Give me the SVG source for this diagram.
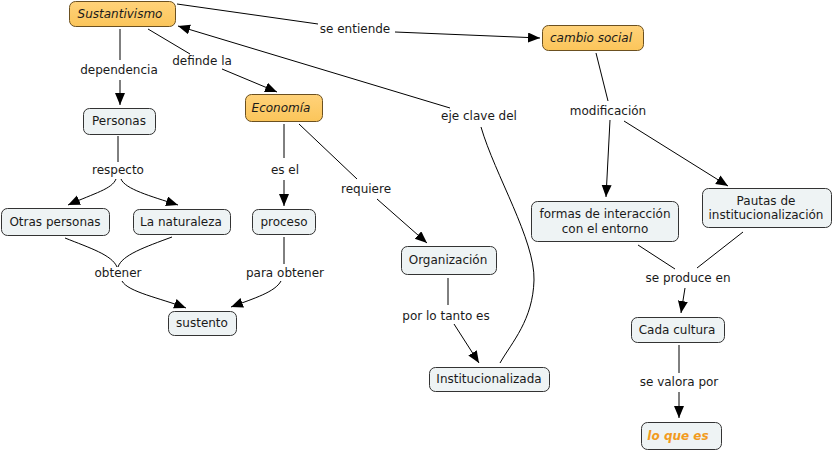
<svg xmlns="http://www.w3.org/2000/svg" width="833" height="451" viewBox="0 0 833 451">
<defs>
<linearGradient id="og" x1="0" y1="0" x2="0" y2="1">
<stop offset="0" stop-color="#FFD27A"/>
<stop offset="1" stop-color="#FBC55A"/>
</linearGradient>
<marker id="ah" markerUnits="userSpaceOnUse" markerWidth="13" markerHeight="11" refX="12" refY="5" orient="auto" viewBox="0 0 13 11">
<path d="M0,0 L12,5 L0,10 z" fill="#000"/>
</marker>
<style>
text{font-family:"DejaVu Sans",Verdana,sans-serif;font-size:12px;fill:#1a1a1a;text-anchor:middle}
.n rect{fill:#EEF3F4;stroke:#333;stroke-width:1}
.o rect{fill:url(#og);stroke:#6b5020;stroke-width:1}
.o text{font-style:italic}
.c path{fill:none;stroke:#000;stroke-width:1}
.a{marker-end:url(#ah)}
.hl{fill:#F29B1E;font-weight:bold;font-style:italic}
</style>
</defs>
<rect width="833" height="451" fill="#fff"/>
<g class="c" id="connectors">
<path d="M177,4 L318,24"/>
<path class="a" d="M395,32 L540,38"/>
<path d="M120,29 L120,60"/>
<path class="a" d="M120,80 L120,105"/>
<path d="M148,29 L190,54"/>
<path class="a" d="M222,69 L277,92"/>
<path class="a" d="M450,108 L178,26"/>
<path d="M481,127 C495,175 535,240 534,280 C533,320 512,342 500,363"/>
<path d="M118,136 L118,162"/>
<path class="a" d="M116,179 C112,189 95,193 68,205"/>
<path class="a" d="M121,179 C125,189 150,196 178,205"/>
<path d="M65,238 C90,248 112,255 117,267"/>
<path d="M172,237 C145,247 122,255 118,267"/>
<path class="a" d="M122,281 C128,292 160,298 186,308"/>
<path d="M284,124 L284,158"/>
<path class="a" d="M284,180 L284,206"/>
<path d="M284,237 L284,264"/>
<path class="a" d="M281,281 C275,292 255,298 231,307"/>
<path d="M299,124 L357,179"/>
<path class="a" d="M377,199 L427,243"/>
<path d="M448,278 L448,305"/>
<path class="a" d="M454,324 L479,363"/>
<path d="M596,53 L608,101"/>
<path class="a" d="M610,120 L606,197"/>
<path class="a" d="M624,121 L728,186"/>
<path d="M638,245 L675,269"/>
<path d="M743,232 L697,268"/>
<path class="a" d="M685,288 L681,313"/>
<path d="M679,345 L679,373"/>
<path class="a" d="M679,392 L679,418"/>
</g>
<g id="labels">
<text x="355" y="33">se entiende</text>
<text x="119" y="74">dependencia</text>
<text x="202" y="65">definde la</text>
<text x="118" y="174">respecto</text>
<text x="285" y="174">es el</text>
<text x="366" y="193">requiere</text>
<text x="118" y="277">obtener</text>
<text x="285" y="277">para obtener</text>
<text x="479" y="120">eje clave del</text>
<text x="608" y="115">modificación</text>
<text x="688" y="282">se produce en</text>
<text x="446" y="320">por lo tanto es</text>
<text x="679" y="386">se valora por</text>
</g>
<g id="sustantivismo" class="o"><rect x="69.5" y="1.5" width="106" height="25" rx="6"/><text x="120" y="18">Sustantivismo</text></g>
<g id="economia" class="o"><rect x="245.5" y="94.5" width="77" height="27" rx="6"/><text x="281" y="112">Economía</text></g>
<g id="cambio-social" class="o"><rect x="542.5" y="25.5" width="101" height="25" rx="6"/><text x="591" y="42">cambio social</text></g>
<g id="personas" class="n"><rect x="83.5" y="108.5" width="72" height="26" rx="6"/><text x="119" y="125">Personas</text></g>
<g id="otras-personas" class="n"><rect x="1.5" y="208.5" width="108" height="27" rx="6"/><text x="55" y="226">Otras personas</text></g>
<g id="la-naturaleza" class="n"><rect x="133.5" y="209.5" width="97" height="25" rx="6"/><text x="181" y="226">La naturaleza</text></g>
<g id="proceso" class="n"><rect x="252.5" y="209.5" width="63" height="25" rx="6"/><text x="284" y="226">proceso</text></g>
<g id="sustento" class="n"><rect x="168.5" y="311.5" width="68" height="24" rx="6"/><text x="202" y="327">sustento</text></g>
<g id="organizacion" class="n"><rect x="401.5" y="246.5" width="95" height="28" rx="6"/><text x="448" y="264">Organización</text></g>
<g id="institucionalizada" class="n"><rect x="429.5" y="367.5" width="120" height="24" rx="6"/><text x="489" y="383">Institucionalizada</text></g>
<g id="formas" class="n"><rect x="531.5" y="201.5" width="147" height="40" rx="6"/><text x="605" y="218">formas de interacción</text><text x="605" y="233">con el entorno</text></g>
<g id="pautas" class="n"><rect x="702.5" y="188.5" width="129" height="39" rx="6"/><text x="766" y="205">Pautas de</text><text x="766" y="219">institucionalización</text></g>
<g id="cada-cultura" class="n"><rect x="631.5" y="317.5" width="93" height="25" rx="6"/><text x="677" y="334">Cada cultura</text></g>
<g id="lo-que-es" class="n"><rect x="641.5" y="422.5" width="80" height="27" rx="6"/><text class="hl" x="678" y="440">lo que es</text></g>
</svg>
